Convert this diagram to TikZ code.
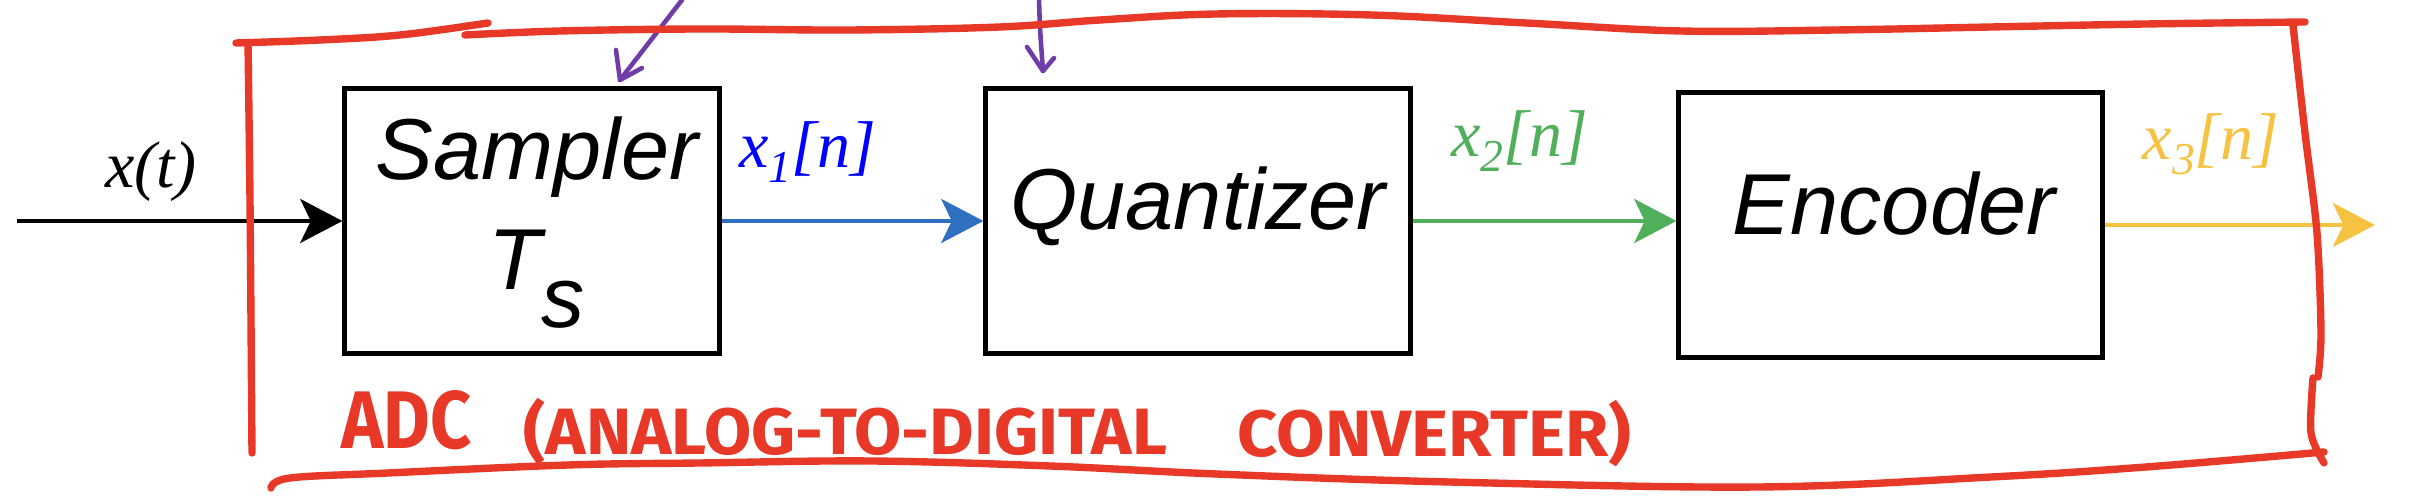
\documentclass[tikz,border=0pt]{standalone}
\usepackage{fontspec}
\setmainfont{Liberation Serif}
\setsansfont{Liberation Sans}
\newfontfamily\handfont{Fira Sans}
\usetikzlibrary{arrows.meta}
\definecolor{adcred}{RGB}{232,56,40}
\definecolor{arrblue}{RGB}{48,112,192}
\definecolor{arrgreen}{RGB}{80,175,90}
\definecolor{arryellow}{RGB}{245,194,66}
\definecolor{lblblue}{RGB}{0,0,255}
\definecolor{purp}{RGB}{112,60,168}
\newcommand\sigsub[1]{\raisebox{-4pt}{\fontsize{13}{14}\selectfont #1}}
\begin{document}
\begin{tikzpicture}[x=0.01cm,y=-0.01cm,
  blockbox/.style={draw, line width=1.4pt, minimum height=2.64cm, inner sep=0pt},
  blocktext/.style={font=\sffamily\itshape\fontsize{24.6}{28}\selectfont, inner sep=0pt, anchor=base},
  sig/.style={font=\itshape\fontsize{18.8}{22}\selectfont, inner sep=0pt, anchor=base},
  flow/.style={line width=1.1pt, -{Stealth[length=12pt,width=12.5pt,inset=3pt]}},
  hand/.style={adcred, line width=2.1pt, line cap=round, line join=round},
  handtext/.style={adcred, font=\handfont\bfseries, inner sep=0pt, anchor=base west},
  hint/.style={purp, line width=1.3pt, line cap=round, line join=round}
]
\useasboundingbox (0,0) rectangle (2432,498);

% blocks
\node[blockbox, minimum width=3.74cm] (s) at (532,221) {};
\node[blockbox, minimum width=4.24cm] (q) at (1198,221) {};
\node[blockbox, minimum width=4.23cm] (e) at (1890.5,225) {};

\node[blocktext] (stext) at (537,180) {Sampler};
\node[blocktext] (ts) at (537,290) {T\raisebox{-10.8pt}{s}};
\node[blocktext] (qtext) at (1198,230) {Quantizer};
\node[blocktext] (etext) at (1894,235) {Encoder};

% signal connectors
\coordinate (in) at (17,221);
\coordinate (out) at (2375,225);
\draw[flow, black] (in) -- (s.west);
\draw[flow, arrblue] (s.east) -- (q.west);
\draw[flow, arrgreen] (q.east) -- (q.east -| e.west);
\draw[flow, arryellow] (e.east) -- (out);

% signal labels
\node[sig, black] (lx) at (151,188) {x(t)};
\node[sig, lblblue] (lx1) at (808,168) {x\sigsub{1}[n]};
\node[sig, arrgreen] (lx2) at (1520,157) {x\sigsub{2}[n]};
\node[sig, arryellow] (lx3) at (2211,160) {x\sigsub{3}[n]};

% purple hint arrows
\coordinate (p1a) at (682,0);
\coordinate (p1b) at (620,80);
\draw[hint] (p1a) -- (p1b);
\draw[hint] (616,50) -- (p1b) -- (642,68);
\coordinate (p2a) at (1039,0);
\coordinate (p2b) at (1043,71);
\draw[hint] (p2a) .. controls (1040,30) .. (p2b);
\draw[hint] (1027,47) -- (p2b) -- (1054,58);

% hand-drawn ADC frame
\draw[hand] plot[smooth, tension=0.6] coordinates {(236,43) (320,40) (400,35) (488,23)};
\draw[hand] plot[smooth, tension=0.6] coordinates {(465,35) (560,31) (700,29) (850,30) (1000,27) (1100,20) (1216,14) (1371,15) (1526,23) (1681,31) (1836,30) (1991,27) (2146,24) (2305,22)};
\draw[hand] plot[smooth] coordinates {(248,43) (250,200) (252,453)};
\draw[hand] plot[smooth] coordinates {(2293,25) (2305,133) (2317,233) (2321,333) (2318,377)};
\draw[hand] plot[smooth] coordinates {(2313,378) (2311,433) (2324,463)};
\draw[hand] plot[smooth, tension=0.6] coordinates {(271,488) (290,478) (388,473) (568,465) (700,463) (871,461) (1050,466) (1216,474) (1449,482) (1759,487) (1991,477) (2146,467) (2324,452)};

% handwritten caption
\node[handtext] (adc) at (341,449) {\resizebox{37pt}{16.5pt}{ADC}};
\node[handtext] (adc2) at (523,455) {\resizebox{183pt}{16pt}{(ANALOG-TO-DIGITAL}};
\node[handtext] (adc3) at (1237,457) {\resizebox{112pt}{16pt}{CONVERTER)}};
\end{tikzpicture}
\end{document}
